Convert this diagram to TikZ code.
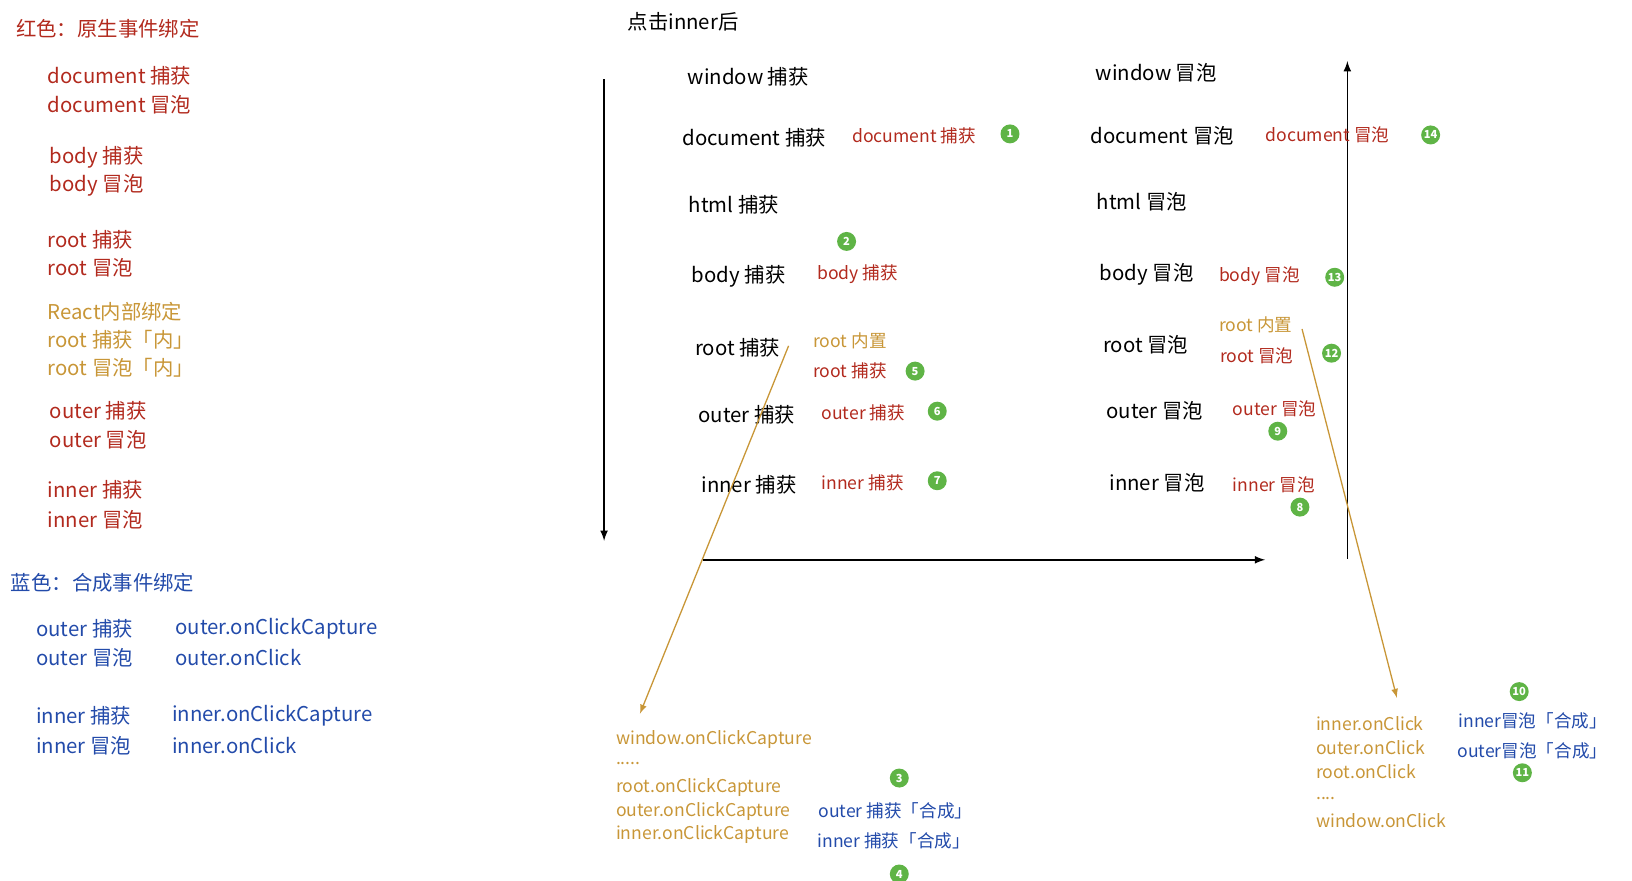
\documentclass[tikz,border=0pt]{standalone}
\usepackage{fontspec}
\setmainfont{Noto Sans CJK SC}
\definecolor{rd}{RGB}{178,42,30}
\definecolor{gd}{RGB}{200,150,55}
\definecolor{bl}{RGB}{35,75,170}
\definecolor{gr}{RGB}{95,180,70}
\begin{document}
\begin{tikzpicture}[x=0.02cm,y=-0.02cm,
  t/.style={anchor=west,inner sep=0pt,font=\fontsize{11}{12}\selectfont},
  s/.style={anchor=west,inner sep=0pt,font=\fontsize{9.5}{11}\selectfont},
  badge/.style={circle,fill=gr,text=white,inner sep=0pt,minimum size=0.36cm,font=\fontsize{6}{6}\selectfont\bfseries},
  ax/.style={-latex,line width=0.9pt},
  gl/.style={gd,line width=0.7pt,-latex}]
\useasboundingbox (0,0) rectangle (1548,835);
% left column
\node[t,rd] (l0) at (15,27) {红色：原生事件绑定};
\node[t,rd] (l1) at (45,72) {document 捕获};
\node[t,rd] (l2) at (45,99) {document 冒泡};
\node[t,rd] (l3) at (47,149) {body 捕获};
\node[t,rd] (l4) at (47,176) {body 冒泡};
\node[t,rd] (l5) at (45,227) {root 捕获};
\node[t,rd] (l6) at (45,254) {root 冒泡};
\node[t,gd] (l7) at (45,296) {React内部绑定};
\node[t,gd] (l8) at (45,322) {root 捕获「内」};
\node[t,gd] (l9) at (45,349) {root 冒泡「内」};
\node[t,rd] (l10) at (47,390) {outer 捕获};
\node[t,rd] (l11) at (47,417) {outer 冒泡};
\node[t,rd] (l12) at (45,465) {inner 捕获};
\node[t,rd] (l13) at (45,493) {inner 冒泡};
\node[t,bl] (b0) at (10,553) {蓝色：合成事件绑定};
\node[t,bl] (b1) at (34,596) {outer 捕获};
\node[t,bl] (b2) at (166,596) {outer.onClickCapture};
\node[t,bl] (b3) at (34,624) {outer 冒泡};
\node[t,bl] (b4) at (166,624) {outer.onClick};
\node[t,bl] (b5) at (34,679) {inner 捕获};
\node[t,bl] (b6) at (163,679) {inner.onClickCapture};
\node[t,bl] (b7) at (34,707) {inner 冒泡};
\node[t,bl] (b8) at (163,707) {inner.onClick};
% title and axes
\node[t] (title) at (595,21) {点击inner后};
\coordinate (d0) at (573,75); \coordinate (d1) at (573,513);
\draw[ax] (d0) -- (d1);
\coordinate (h0) at (667,531); \coordinate (h1) at (1200,531);
\draw[ax] (h0) -- (h1);
\coordinate (u0) at (1278,530); \coordinate (u1) at (1278,58);
\draw[ax] (u0) -- (u1);
% capture column
\node[t] (c1) at (652,73) {window 捕获};
\node[t] (c2) at (647,131) {document 捕获};
\node[t] (c3) at (653,194) {html 捕获};
\node[t] (c4) at (656,262) {body 捕获};
\node[t] (c5) at (659,330) {root 捕获};
\node[t] (c6) at (662,393) {outer 捕获};
\node[t] (c7) at (665,460) {inner 捕获};
\node[s,rd] (cr2) at (808,129) {document 捕获};
\node[badge] (n1) at (958,127) {1};
\node[badge] (n2) at (803,229) {2};
\node[s,rd] (cr4) at (775,260) {body 捕获};
\node[s,gd] (cg5) at (771,323) {root 内置};
\node[s,rd] (cr5) at (771,352) {root 捕获};
\node[badge] (n5) at (868,352) {5};
\node[s,rd] (cr6) at (779,392) {outer 捕获};
\node[badge] (n6) at (889,390) {6};
\node[s,rd] (cr7) at (779,458) {inner 捕获};
\node[badge] (n7) at (889,456) {7};
% bubble column
\node[t] (p1) at (1039,69) {window 冒泡};
\node[t] (p2) at (1034,129) {document 冒泡};
\node[t] (p3) at (1040,191) {html 冒泡};
\node[t] (p4) at (1043,260) {body 冒泡};
\node[t] (p5) at (1046,327) {root 冒泡};
\node[t] (p6) at (1049,390) {outer 冒泡};
\node[t] (p7) at (1052,458) {inner 冒泡};
\node[s,rd] (pr2) at (1200,128) {document 冒泡};
\node[badge] (n14) at (1357,128) {14};
\node[s,rd] (pr4) at (1156,262) {body 冒泡};
\node[badge] (n13) at (1266,263) {13};
\node[s,gd] (pg5) at (1156,308) {root 内置};
\node[s,rd] (pr5) at (1157,337) {root 冒泡};
\node[badge] (n12) at (1263,335) {12};
\node[s,rd] (pr6) at (1169,388) {outer 冒泡};
\node[badge] (n9) at (1212,409) {9};
\node[s,rd] (pr7) at (1169,460) {inner 冒泡};
\node[badge] (n8) at (1233,481) {8};
% gold connectors
\coordinate (g0) at (748,328); \coordinate (g1) at (607,677);
\draw[gl] (g0) -- (g1);
\coordinate (g2) at (1235,312); \coordinate (g3) at (1325,662);
\draw[gl] (g2) -- (g3);
% bottom left
\node[s,gd] (q1) at (584,701) {window.onClickCapture};
\node[s,gd] (q2) at (584,724) {.....};
\node[s,gd] (q3) at (584,747) {root.onClickCapture};
\node[s,gd] (q4) at (584,770) {outer.onClickCapture};
\node[s,gd] (q5) at (584,792) {inner.onClickCapture};
\node[badge] (n3) at (853,738) {3};
\node[s,bl] (q6) at (776,769) {outer 捕获「合成」};
\node[s,bl] (q7) at (775,798) {inner 捕获「合成」};
\node[badge] (n4) at (853,829) {4};
% bottom right
\node[s,gd] (r1) at (1248,686) {inner.onClick};
\node[s,gd] (r2) at (1248,709) {outer.onClick};
\node[s,gd] (r3) at (1248,732) {root.onClick};
\node[s,gd] (r4) at (1248,757) {....};
\node[s,gd] (r5) at (1248,778) {window.onClick};
\node[badge] (n10) at (1441,656) {10};
\node[s,bl] (r6) at (1383,684) {inner冒泡「合成」};
\node[s,bl] (r7) at (1382,712) {outer冒泡「合成」};
\node[badge] (n11) at (1444,733) {11};
\end{tikzpicture}
\end{document}
